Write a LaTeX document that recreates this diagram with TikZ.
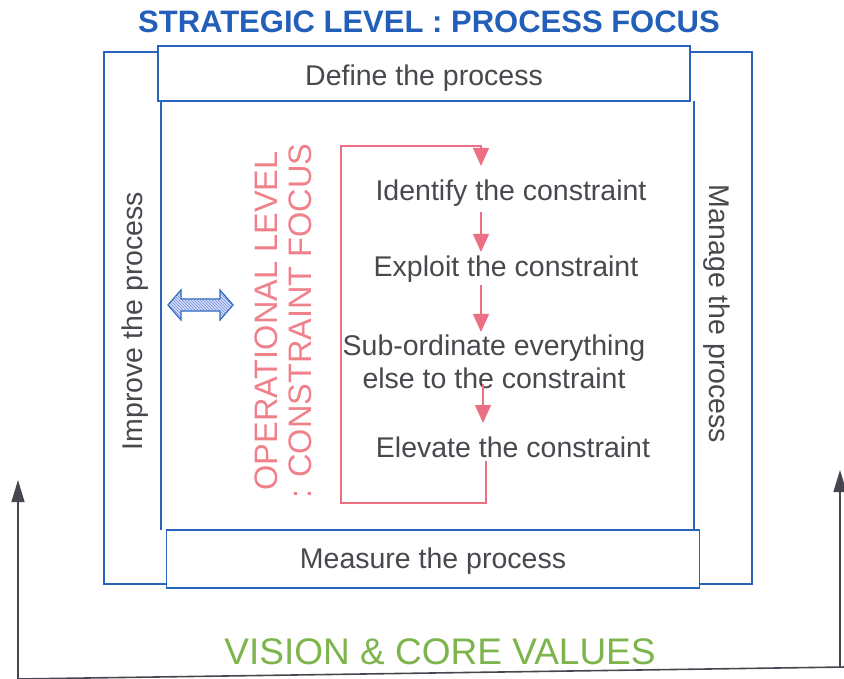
\documentclass[tikz,border=0pt]{standalone}
\usepackage{fontspec}
\setmainfont{Liberation Sans}
\usetikzlibrary{arrows.meta,patterns}
\definecolor{blueline}{RGB}{40,100,190}
\definecolor{titleblue}{RGB}{35,95,185}
\definecolor{pinkline}{RGB}{236,112,132}
\definecolor{pinktext}{RGB}{240,128,138}
\definecolor{greytext}{RGB}{72,72,78}
\definecolor{visiongreen}{RGB}{125,180,75}
\definecolor{darkline}{RGB}{70,70,80}
\tikzset{
  body/.style={text=greytext, font=\fontsize{28.5}{33}\selectfont},
  frame/.style={draw=blueline, line width=1.6pt},
  stagebox/.style={frame, fill=white, inner sep=0pt},
  loopline/.style={draw=pinkline, line width=1.2pt},
  looparrow/.style={loopline, -{Triangle[width=16pt,length=18pt]}},
  basearrow/.style={draw=darkline, line width=1.4pt, -{Triangle[width=13pt,length=22pt]}},
}
\begin{document}
\begin{tikzpicture}[x=1pt,y=-1pt]
\useasboundingbox (0,0) rectangle (844,679);

% process frame and its four sides
\draw[frame] (104,52) rectangle (752,584);
\draw[frame] (161,101) -- (161,530);
\draw[frame] (694,101) -- (694,530);
\node[stagebox, minimum width=532pt, minimum height=55pt] (define) at (424,73.5) {};
\node[body] (definetext) at (424,78) {Define the process};
\node[stagebox, minimum width=533pt, minimum height=58pt] (measure) at (433,559) {};
\node[body] (measuretext) at (433,561) {Measure the process};
\node[body, rotate=90] (improve) at (135,321) {Improve the process};
\node[body, rotate=-90] (manage) at (717,314) {Manage the process};

% headings
\node[text=titleblue, font=\fontsize{31}{36}\bfseries\selectfont] (strategic) at (429,22) {STRATEGIC LEVEL : PROCESS FOCUS};
\node[text=visiongreen, font=\fontsize{37}{42}\selectfont] (vision) at (440,652) {VISION \& CORE VALUES};

% operational level
\node[text=pinktext, rotate=90, align=center, font=\fontsize{32.5}{34}\selectfont] (operational) at (283,321) {OPERATIONAL LEVEL\\: CONSTRAINT FOCUS};

% link between the two levels
\coordinate (link) at (200,305);
\path[fill=blue!15, draw=blueline, line width=1.2pt]
  (168,305) -- (181,290) -- (181,299) -- (220,299) -- (220,290) -- (233,305)
  -- (220,320) -- (220,311) -- (181,311) -- (181,320) -- cycle;
\path[pattern=north west lines, pattern color=blueline!70]
  (168,305) -- (181,290) -- (181,299) -- (220,299) -- (220,290) -- (233,305)
  -- (220,320) -- (220,311) -- (181,311) -- (181,320) -- cycle;

% the five focusing steps
\node[body] (identify) at (511,193) {Identify the constraint};
\node[body] (exploit) at (506,269) {Exploit the constraint};
\node[body, align=center] (subordinate) at (494,362) {Sub-ordinate everything\\else to the constraint};
\node[body] (elevate) at (513,447) {Elevate the constraint};

\coordinate (c1) at (341,503);
\coordinate (c2) at (341,146);
\coordinate (c3) at (481,146);
\coordinate (c4) at (486,503);
\draw[looparrow] (c4 |- elevate.south) -- (c4) -- (c1) -- (c2) -- (c3) -- (481,166);
\draw[looparrow] (481,212) -- (481,252);
\draw[looparrow] (481,285) -- (481,332);
\draw[looparrow] (483,384) -- (483,423);

% vision base line and rising arrows
\coordinate (b1) at (18,679);
\coordinate (b2) at (846,667);
\draw[draw=darkline, line width=1.6pt] (b1) -- (b2);
\draw[basearrow] (b1) -- (18,480);
\draw[basearrow] (840,668) -- (840,470);
\end{tikzpicture}
\end{document}
